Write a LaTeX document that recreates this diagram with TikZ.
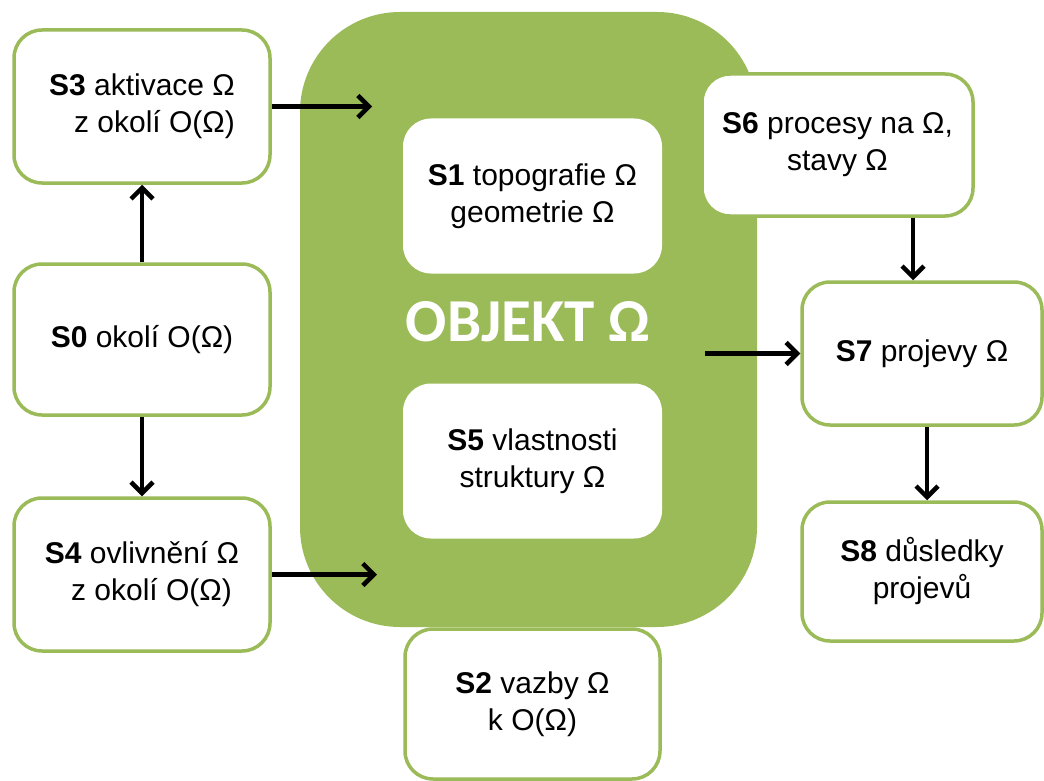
\documentclass[tikz,border=0pt]{standalone}
\usepackage{fontspec}
\setmainfont{Liberation Sans}
\newfontfamily\objfont{Carlito}
\usepackage{tikz}
\usetikzlibrary{positioning,arrows.meta}
\definecolor{olivegreen}{HTML}{9BBB59}
\tikzstyle{box}   = [rectangle, rounded corners=28pt, draw=olivegreen, line width=3.5pt, fill=white, minimum width=256pt, minimum height=153pt, align=center, font=\fontsize{30}{37}\selectfont]
\tikzstyle{inbox} = [box, draw=none, minimum width=259pt, minimum height=155pt]
\tikzstyle{arrow} = [line width=4.5pt, -{Straight Barb[length=11pt,width=22pt]}]

\begin{document}
\begin{tikzpicture}[x=1pt,y=-1pt]
    \useasboundingbox (0,0) rectangle (1044,781);

    % object
    \fill[olivegreen, rounded corners=100pt] (300,12) rectangle (757,627);
    \node[text=white, font=\objfont\bfseries\fontsize{61}{66}\selectfont] (obj) at (528,322) {OBJEKT Ω};

    \node[inbox] (S1) at (532.5,196) {\textbf{S1} topografie Ω\\geometrie Ω};
    \node[inbox] (S5) at (532.5,461) {\textbf{S5} vlastnosti\\struktury Ω};

    % surroundings
    \node[box] (S3) at (142,106.5) {\textbf{S3} aktivace Ω\\\hspace*{25pt}z okolí O(Ω)};
    \node[box, minimum height=151pt] (S0) at (142,339.5) {\textbf{S0} okolí O(Ω)};
    \node[box] (S4) at (142,574.5) {\textbf{S4} ovlivnění Ω\\\hspace*{19pt}z okolí O(Ω)};
    \node[box, minimum width=255pt, minimum height=150pt] (S2) at (532.5,704) {\textbf{S2} vazby Ω\\k O(Ω)};

    % manifestations
    \node[box, minimum width=271pt, minimum height=142pt] (S6) at (837.5,145) {\textbf{S6} procesy na Ω,\\stavy Ω};
    \node[box, minimum width=240pt, minimum height=143pt] (S7) at (922,353.5) {\textbf{S7} projevy Ω};
    \node[box, minimum width=240pt, minimum height=139pt] (S8) at (922,571.5) {\textbf{S8} důsledky\\projevů};

    \coordinate (in3) at (372,0);
    \coordinate (in4) at (377,0);
    \coordinate (out7) at (705,0);

    \draw[arrow] (S0.north) -- (S3.south);
    \draw[arrow] (S0.south) -- (S4.north);
    \draw[arrow] (S3.east) -- (S3.east -| in3);
    \draw[arrow] (S4.east) -- (S4.east -| in4);
    \draw[arrow] (S7.west -| out7) -- (S7.west);
    \draw[arrow] ([xshift=-9pt]S7.north |- S6.south) -- ([xshift=-9pt]S7.north);
    \draw[arrow] ([xshift=5pt]S7.south) -- ([xshift=5pt]S8.north);
\end{tikzpicture}
\end{document}
